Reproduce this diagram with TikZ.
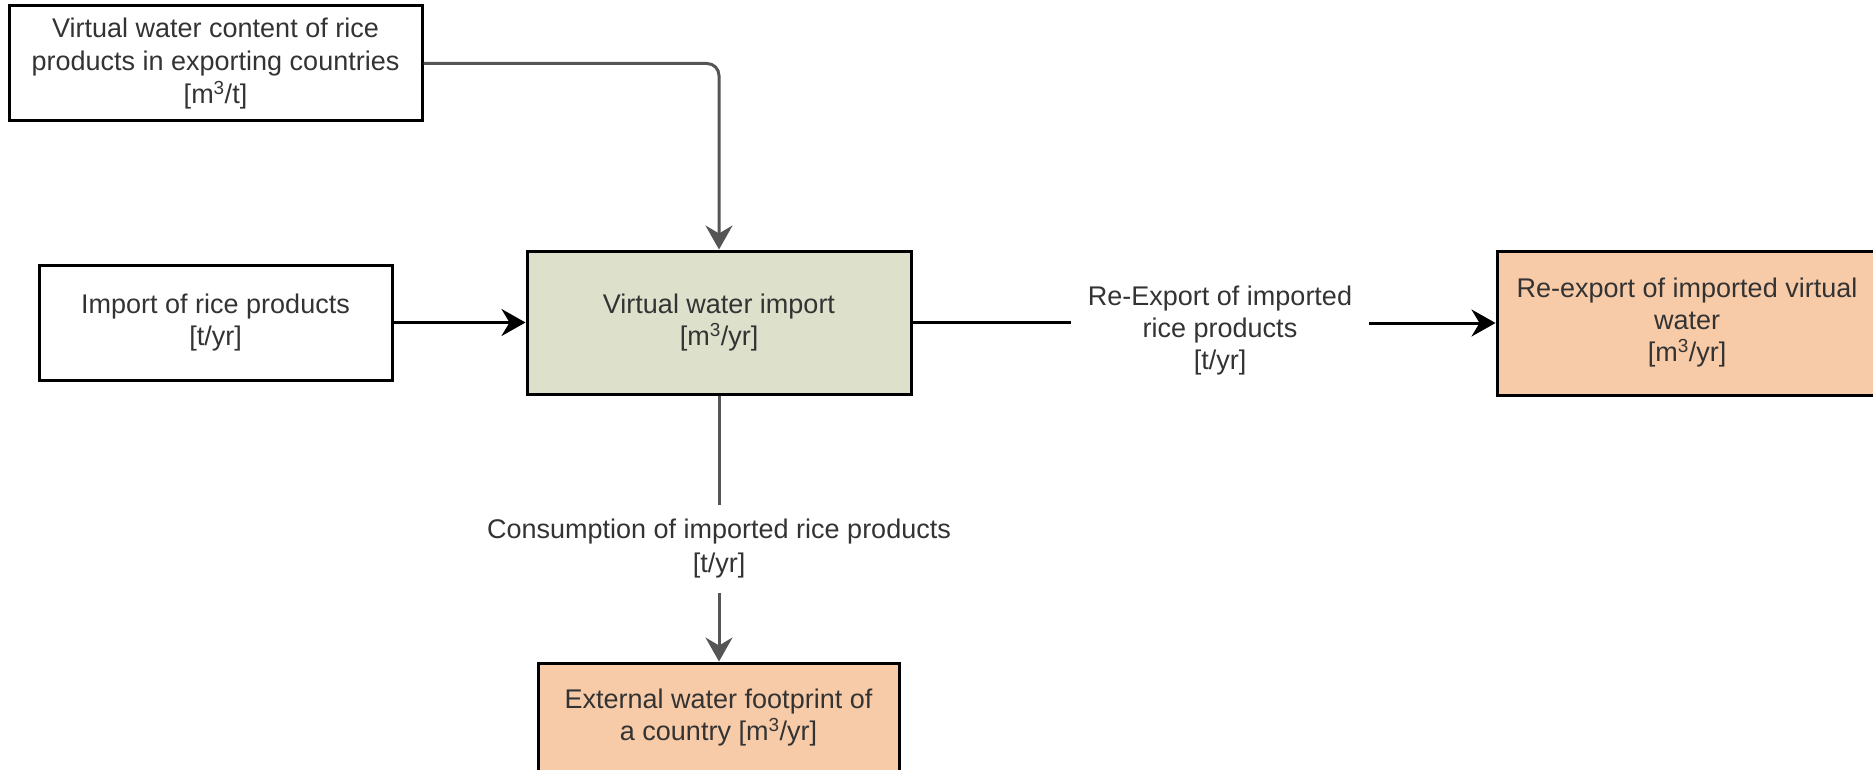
\documentclass[tikz,border=0pt]{standalone}
\usepackage{fontspec}
\setmainfont{Liberation Sans}
\usetikzlibrary{arrows.meta}
\definecolor{sage}{HTML}{DDE1CB}
\definecolor{peach}{HTML}{F8CBA8}
\definecolor{ink}{HTML}{333333}
\definecolor{wire}{HTML}{555555}
\begin{document}
\begin{tikzpicture}[x=1pt, y=-1pt,
    box/.style={draw=black, line width=3pt, inner sep=0pt, align=center, text=ink,
        font=\fontsize{27}{32}\selectfont},
    lab/.style={inner sep=14pt, align=center, text=ink, font=\fontsize{27}{34}\selectfont},
    tip/.style={-{Stealth[length=24pt, width=27pt, inset=8pt]}}]
\useasboundingbox (0,0) rectangle (1873,770);
\clip (0,0) rectangle (1873,770);
% boxes
\node[box, font=\fontsize{27}{33}\selectfont, minimum width=413pt, minimum height=115pt] (content) at (215.5,63.5)
    {Virtual water content of rice\\products in exporting countries\\{[}m\textsuperscript{3}/t]};
\node[box, minimum width=353pt, minimum height=115pt] (import) at (215.5,322.5)
    {Import of rice products\\{[}t/yr]};
\node[box, fill=sage, minimum width=384pt, minimum height=143pt] (vwi) at (719,322.5)
    {Virtual water import\\{[}m\textsuperscript{3}/yr]};
\node[box, fill=peach, minimum width=380pt, minimum height=144pt] (reexp) at (1687,323)
    {Re-export of imported virtual\\water\\{[}m\textsuperscript{3}/yr]};
\node[box, fill=peach, minimum width=361pt, minimum height=110pt] (ext) at (718.5,718)
    {External water footprint of\\a country [m\textsuperscript{3}/yr]};
% flow labels
\node[lab, inner xsep=17pt, font=\fontsize{27}{32}\selectfont] (relab) at (1220,331)
    {Re-Export of imported\\rice products\\{[}t/yr]};
\node[lab] (conlab) at (719,549) {Consumption of imported rice products\\{[}t/yr]};
% connectors
\draw[tip, wire, line width=3pt, rounded corners=12pt] (content.east) -| (vwi.north);
\draw[tip, line width=3pt] (import.east) -- (vwi.west);
\draw[line width=3pt] (vwi.east) -- (vwi.east -| relab.west);
\draw[tip, line width=3pt] (relab.east |- reexp.west) -- (reexp.west);
\draw[wire, line width=3pt] (vwi.south) -- (vwi.south |- conlab.north);
\draw[tip, wire, line width=3pt] (conlab.south) -- (conlab.south |- ext.north);
\end{tikzpicture}
\end{document}
